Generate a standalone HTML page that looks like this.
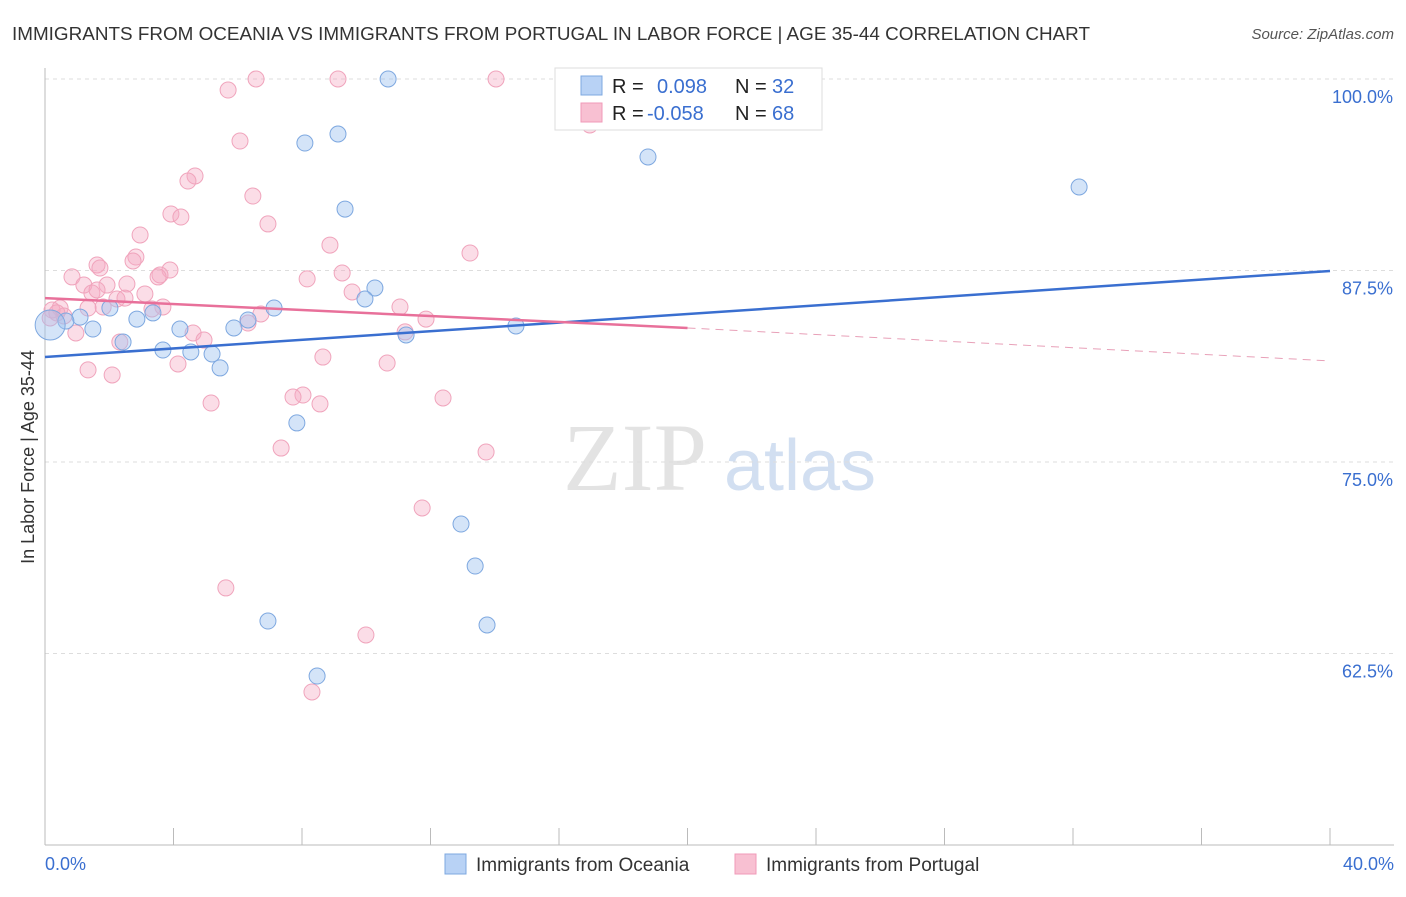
<!DOCTYPE html>
<html><head><meta charset="utf-8"><style>
body{margin:0;background:#fff;font-family:"Liberation Sans",sans-serif}
</style></head><body>
<svg id="c" width="1406" height="892" xmlns="http://www.w3.org/2000/svg">
<text x="12" y="40" font-size="18" fill="#333" textLength="1078" lengthAdjust="spacingAndGlyphs">IMMIGRANTS FROM OCEANIA VS IMMIGRANTS FROM PORTUGAL IN LABOR FORCE | AGE 35-44 CORRELATION CHART</text>
<text x="1394" y="39" font-size="15" fill="#555" font-style="italic" text-anchor="end">Source: ZipAtlas.com</text>
<g>
<text x="635" y="490" font-size="96" fill="#ddd" text-anchor="middle" font-family="Liberation Serif,serif" opacity="0.8">ZIP</text>
<text x="800" y="490" font-size="72" fill="#c8d8ee" text-anchor="middle" opacity="0.8">atlas</text>
</g>
<g id="grid"></g>
<g id="axes"></g>
<g id="pts"></g>
<g id="lines"></g>
<g>
<rect x="555" y="68" width="267" height="62" fill="#fff" stroke="#ddd"/>
<rect x="581" y="76" width="21" height="19" fill="#b8d2f5" stroke="#7ea8e0"/>
<rect x="581" y="103" width="21" height="19" fill="#f8c0d2" stroke="#f09ab8"/>
<text x="612" y="93" font-size="20" fill="#222">R = </text><text x="657" y="93" font-size="20" fill="#3a6fd0">0.098</text>
<text x="735" y="93" font-size="20" fill="#222">N = </text><text x="772" y="93" font-size="20" fill="#3a6fd0">32</text>
<text x="612" y="120" font-size="20" fill="#222">R = </text><text x="647" y="120" font-size="20" fill="#3a6fd0">-0.058</text>
<text x="735" y="120" font-size="20" fill="#222">N = </text><text x="772" y="120" font-size="20" fill="#3a6fd0">68</text>
</g>
<text transform="translate(34,457) rotate(-90)" font-size="18" fill="#333" text-anchor="middle">In Labor Force | Age 35-44</text>
<text x="45" y="870" font-size="18" fill="#3a6fd0">0.0%</text>
<text x="1394" y="870" font-size="18" fill="#3a6fd0" text-anchor="end">40.0%</text>
<g><rect x="445" y="854" width="21" height="20" fill="#b8d2f5" stroke="#7ea8e0"/><text x="476" y="871" font-size="19" fill="#333">Immigrants from Oceania</text></g>
<g><rect x="735" y="854" width="21" height="20" fill="#f8c0d2" stroke="#f09ab8"/><text x="766" y="871" font-size="19" fill="#333">Immigrants from Portugal</text></g>
</svg>
<script>
const yTicks=[100,87.5,75,62.5];
const yTickLabels=["100.0%","87.5%","75.0%","62.5%"];
const blueX=[10.68,9.12,8.09,18.77,32.19,9.34,10.27,9.96,7.13,2.02,3.36,1.09,0.65,2.86,6.32,5.88,4.20,1.49,2.43,11.24,14.66,3.67,4.54,5.20,5.45,7.84,12.95,13.39,6.94,13.76,8.47];
const blueY=[100,96.41,95.82,94.91,92.95,91.51,86.36,85.64,85.05,85.05,84.73,84.46,84.20,84.33,84.27,83.75,83.68,83.68,82.83,83.29,83.88,82.31,82.18,82.05,81.14,77.55,70.95,68.21,64.62,64.36,61.03];
const pinkX=[6.57,9.12,14.04,5.70,16.96,6.07,4.67,4.45,6.47,3.92,4.23,6.94,2.96,8.87,13.23,2.83,2.74,1.62,1.71,3.89,3.58,3.52,0.84,8.16,9.25,1.21,2.55,1.93,9.56,1.46,3.11,2.24,2.49,11.05,3.67,1.81,3.33,1.34,0.47,0.22,0.59,6.72,11.86,6.32,0.96,4.61,4.95,11.21,2.33,8.65,10.65,4.14,1.34,2.09,12.39,5.17,8.03,7.72,8.56,7.35,13.73,11.74,5.63,9.99,8.31,0.37,0.16,1.62];
const pinkY=[100,100,100,99.28,97.00,95.95,93.67,93.34,92.36,91.19,90.99,90.54,89.82,89.16,88.64,88.38,88.12,87.86,87.66,87.53,87.21,87.08,87.08,86.95,87.34,86.55,86.62,86.55,86.10,86.03,85.97,85.64,85.70,85.12,85.12,85.12,84.99,85.05,85.05,84.92,84.53,84.66,84.33,84.07,83.42,83.42,82.96,83.49,82.83,81.85,81.46,81.40,81.01,80.68,79.18,78.85,79.37,79.24,78.79,75.91,75.65,72.00,66.78,63.71,59.99,84.73,84.40,86.23];
const bigBlue=[0.16,83.94];
const blueTrend=[0,81.85,40,87.47];
const pinkTrend=[0,85.7,20,83.75,40,81.6];
const X=v=>45+v*32.125, Y=v=>79+(100-v)*15.32;
const NS="http://www.w3.org/2000/svg";
function mk(p,t,a){const e=document.createElementNS(NS,t);for(const k in a)e.setAttribute(k,a[k]);p.appendChild(e);return e;}
const g=document.getElementById('grid'),ax=document.getElementById('axes'),pts=document.getElementById('pts'),ln=document.getElementById('lines');
yTicks.forEach((t,i)=>{
 const l=mk(g,'line',{x1:45,x2:1394,y1:Y(t),y2:Y(t),stroke:'#ddd','stroke-dasharray':'4,4'});
 
 
 const tx=mk(g,'text',{x:1393,y:Y(t)+24,'font-size':18,fill:'#3a6fd0','text-anchor':'end'});
 tx.textContent=yTickLabels[i];
 
 
});
const ya=mk(ax,'line',{x1:45,x2:45,y1:68,y2:845,stroke:'#bbb'});


const xa=mk(ax,'line',{x1:45,x2:1394,y1:845,y2:845,stroke:'#bbb'});


for(let i=0;i<=10;i++){const t=mk(ax,'line',{x1:X(i*4),x2:X(i*4),y1:828,y2:845,stroke:'#bbb'});
 
 }
pinkX.forEach((x,i)=>{const c=mk(pts,'circle',{cx:X(x),cy:Y(pinkY[i]),r:8,fill:'rgba(246,170,195,0.4)',stroke:'#f0a4bc','stroke-width':1});
 
 });
blueX.forEach((x,i)=>{const c=mk(pts,'circle',{cx:X(x),cy:Y(blueY[i]),r:8,fill:'rgba(160,195,240,0.45)',stroke:'#7ea8e0','stroke-width':1});
 
 });
const bb=mk(pts,'circle',{cx:X(bigBlue[0]),cy:Y(bigBlue[1]),r:15,fill:'rgba(160,195,240,0.45)',stroke:'#7ea8e0'});


const bl=mk(ln,'line',{x1:X(blueTrend[0]),y1:Y(blueTrend[1]),x2:X(blueTrend[2]),y2:Y(blueTrend[3]),stroke:'#3a6fd0','stroke-width':2.5});


const pl=mk(ln,'line',{x1:X(pinkTrend[0]),y1:Y(pinkTrend[1]),x2:X(pinkTrend[2]),y2:Y(pinkTrend[3]),stroke:'#e8709a','stroke-width':2.5});


const pd=mk(ln,'line',{x1:X(pinkTrend[2]),y1:Y(pinkTrend[3]),x2:X(pinkTrend[4]),y2:Y(pinkTrend[5]),stroke:'#e8a0b8','stroke-width':1,'stroke-dasharray':'8,6'});


</script>
</body></html>
